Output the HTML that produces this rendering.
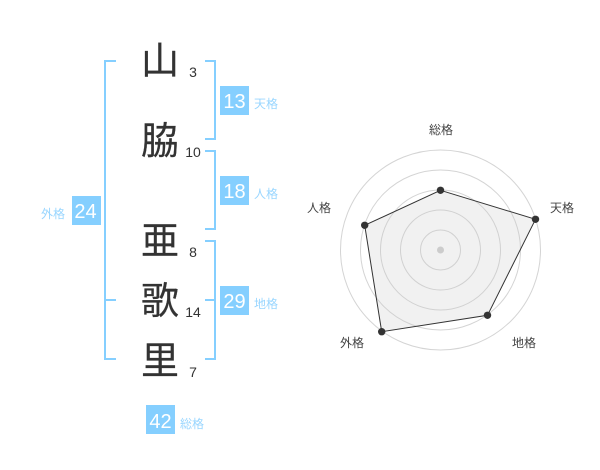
<!DOCTYPE html>
<html><head><meta charset="utf-8"><style>
html,body{margin:0;padding:0;background:#fff}
svg{display:block}
text{font-family:"Liberation Sans","WenQuanYi Zen Hei","Noto Sans CJK JP",sans-serif}
.k{font-size:38px;fill:#333;stroke:#333;stroke-width:.2;text-anchor:middle}
.n{font-size:14px;fill:#333;text-anchor:middle}
.b{font-size:20px;fill:#fff;text-anchor:middle}
.l{font-size:12px;fill:#99d6ff}
.r{font-size:12px;fill:#444;text-anchor:middle}
circle.g{fill:none;stroke:#d4d4d4;stroke-width:1}
</style></head><body>
<svg width="600" height="470" viewBox="0 0 600 470" xmlns="http://www.w3.org/2000/svg">
<g fill="none" stroke="#85cfff" stroke-width="2">
<path d="M116 61H105V359H116M105 300H116"/>
<path d="M205 61H215V139H205"/>
<path d="M205 151H215V229H205"/>
<path d="M205 241H215V359H205M205 300H215"/>
</g>
<text class="k" x="160" y="74">山</text>
<text class="k" x="160" y="154">脇</text>
<text class="k" x="160" y="254">亜</text>
<text class="k" x="160" y="314">歌</text>
<text class="k" x="160" y="374">里</text>
<text class="n" x="193" y="77">3</text>
<text class="n" x="193" y="157">10</text>
<text class="n" x="193" y="257">8</text>
<text class="n" x="193" y="317">14</text>
<text class="n" x="193" y="377">7</text>
<g fill="#85cfff">
<rect x="220" y="86" width="29" height="29"/>
<rect x="220" y="176" width="29" height="29"/>
<rect x="72" y="196" width="29" height="29"/>
<rect x="220" y="286" width="29" height="29"/>
<rect x="146" y="405" width="29" height="29"/>
</g>
<text class="b" x="234.500" y="108">13</text>
<text class="b" x="234.500" y="198">18</text>
<text class="b" x="85.500" y="218">24</text>
<text class="b" x="234.500" y="308">29</text>
<text class="b" x="160.500" y="428">42</text>
<text class="l" x="254" y="108">天格</text>
<text class="l" x="254" y="198">人格</text>
<text class="l" x="41" y="218">外格</text>
<text class="l" x="254" y="308">地格</text>
<text class="l" x="180" y="428">総格</text>
<circle class="g" cx="440.500" cy="250" r="100"/>
<circle class="g" cx="440.500" cy="250" r="80"/>
<circle class="g" cx="440.500" cy="250" r="60"/>
<circle class="g" cx="440.500" cy="250" r="40"/>
<circle class="g" cx="440.500" cy="250" r="20"/>
<polygon points="440.500,190.300 535.500,219.300 487.500,315.300 381.700,331.700 364.700,225.300" fill="rgba(200,200,200,.25)" stroke="#333" stroke-width="1"/>
<circle cx="440.500" cy="250" r="3.500" fill="#ccc"/>
<g fill="#333">
<circle cx="440.500" cy="190.300" r="3.700"/>
<circle cx="535.500" cy="219.300" r="3.700"/>
<circle cx="487.500" cy="315.300" r="3.700"/>
<circle cx="381.700" cy="331.700" r="3.700"/>
<circle cx="364.700" cy="225.300" r="3.700"/>
</g>
<text class="r" x="441" y="134">総格</text>
<text class="r" x="562" y="212">天格</text>
<text class="r" x="524" y="347">地格</text>
<text class="r" x="352" y="347">外格</text>
<text class="r" x="319" y="212">人格</text>
</svg>
</body></html>
